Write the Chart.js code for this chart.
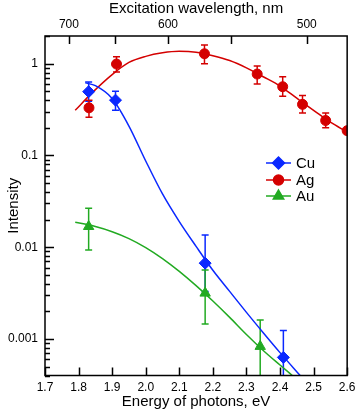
<!DOCTYPE html>
<html>
<head>
<meta charset="utf-8">
<script src="https://cdn.jsdelivr.net/npm/chart.js@4.4.0/dist/chart.umd.min.js"></script>
<style>
    body { margin: 0; background: #fff; }
    canvas { display: block; }
</style>
</head>
<body>
<canvas id="grafico" width="360" height="414"></canvas>
<script>
// Energía de fotones (eV) y valores medidos
const cuE = [1.83, 1.91, 2.177, 2.41];
const cuY = [0.495, 0.40, 0.0067, 0.00063];
const cuLo = [0.39, 0.31, 0.0033, 0.0002];
const cuHi = [0.63, 0.50, 0.0136, 0.00124];

const agE = [1.831, 1.913, 2.175, 2.332, 2.408, 2.467, 2.536, 2.6];
const agY = [0.33, 0.99, 1.28, 0.77, 0.56, 0.36, 0.24, 0.186];
const agLo = [0.26, 0.81, 1.0, 0.60, 0.44, 0.29, 0.20, null];
const agHi = [0.40, 1.19, 1.6, 0.94, 0.72, 0.45, 0.29, null];

const auE = [1.83, 2.177, 2.341];
const auY = [0.0168, 0.00316, 0.00083];
const auLo = [0.0093, 0.00146, 0.0002];
const auHi = [0.0266, 0.00566, 0.00161];

// Curvas de ajuste
const agFitE = [1.79, 1.84, 1.90, 1.95, 2.00, 2.05, 2.10, 2.15, 2.20, 2.25, 2.30, 2.35, 2.40, 2.45, 2.50, 2.55, 2.60];
const agFitY = [0.31, 0.48, 0.76, 1.03, 1.20, 1.31, 1.36, 1.33, 1.22, 1.08, 0.90, 0.72, 0.57, 0.42, 0.31, 0.23, 0.18];

const cuFitE = [1.82, 1.85, 1.90, 1.95, 2.00, 2.05, 2.10, 2.15, 2.20, 2.25, 2.30, 2.35, 2.40, 2.46];
const cuFitY = [0.617, 0.575, 0.417, 0.209, 0.087, 0.038, 0.019, 0.0102, 0.0056, 0.0033, 0.00195, 0.00117, 0.00071, 0.0004];

const auFitE = [1.79, 1.85, 1.90, 1.95, 2.00, 2.05, 2.10, 2.15, 2.20, 2.25, 2.30, 2.35, 2.40, 2.44];
const auFitY = [0.0187, 0.0168, 0.01476, 0.01242, 0.00991, 0.00752, 0.00545, 0.00381, 0.00259, 0.00172, 0.00112, 0.00075, 0.00052, 0.00039];

// Ejes
const xTicks = [1.7, 1.8, 1.9, 2.0, 2.1, 2.2, 2.3, 2.4, 2.5, 2.6];
const topTicksNm = [700, 650, 600, 550, 500];
const topTickLabels = ["700", "", "600", "", "500"];
const yTickLabels = [0.001, 0.01, 0.1, 1];

const AZUL = "#0a28ff";
const ROJO = "#d40000";
const VERDE = "#22aa22";

const nombres = ["Cu", "Ag", "Au"];

Chart.defaults.font.family = '"Liberation Sans", Arial, sans-serif';
Chart.defaults.color = "#000";

function puntos(xs, ys) {
    return xs.map((x, i) => ({x: x, y: ys[i]}));
}

function ticksLog() {
    const lista = [];
    [0.0001].concat(yTickLabels).forEach(d => {
        for (let k = 1; k <= 9; k++) {
            const v = d * k;
            if (v >= 0.0004 - 1e-12 && v <= 2 + 1e-9) lista.push(k === 1 ? d : v);
        }
    });
    return lista;
}

const errores = [
    {xs: cuE, lo: cuLo, hi: cuHi, color: AZUL},
    {xs: agE, lo: agLo, hi: agHi, color: ROJO},
    {xs: auE, lo: auLo, hi: auHi, color: VERDE}
];

const extras = {
    id: "extras",
    beforeDatasetsDraw(chart) {
        const {ctx, chartArea, scales} = chart;
        ctx.save();
        ctx.beginPath();
        ctx.rect(chartArea.left, chartArea.top, chartArea.right - chartArea.left, chartArea.bottom - chartArea.top);
        ctx.clip();
        ctx.lineWidth = 1.5;
        errores.forEach(e => {
            ctx.strokeStyle = e.color;
            e.xs.forEach((x, i) => {
                if (e.lo[i] == null) return;
                const px = scales.x.getPixelForValue(x);
                const p1 = scales.y.getPixelForValue(e.hi[i]);
                const p2 = scales.y.getPixelForValue(e.lo[i]);
                ctx.beginPath();
                ctx.moveTo(px, p1); ctx.lineTo(px, p2);
                ctx.moveTo(px - 3.5, p1); ctx.lineTo(px + 3.5, p1);
                ctx.moveTo(px - 3.5, p2); ctx.lineTo(px + 3.5, p2);
                ctx.stroke();
            });
        });
        ctx.restore();
    },
    afterDraw(chart) {
        const {ctx, chartArea, scales} = chart;
        const {left, right, top, bottom} = chartArea;
        ctx.save();
        ctx.strokeStyle = "#000";
        ctx.lineWidth = 1.5;
        ctx.strokeRect(left, top, right - left, bottom - top);

        // marcas hacia adentro
        ctx.beginPath();
        xTicks.forEach(v => {
            const px = Math.round(scales.x.getPixelForValue(v)) + 0.5;
            ctx.moveTo(px, bottom); ctx.lineTo(px, bottom - 8);
        });
        topTicksNm.forEach(nm => {
            const px = Math.round(scales.x2.getPixelForValue(1239.84 / nm)) + 0.5;
            ctx.moveTo(px, top); ctx.lineTo(px, top + 8);
        });
        scales.y.ticks.forEach(t => {
            const py = Math.round(scales.y.getPixelForValue(t.value)) + 0.5;
            const largo = yTickLabels.includes(t.value) ? 9 : 5;
            ctx.moveTo(left, py); ctx.lineTo(left + largo, py);
        });
        ctx.stroke();

        // leyenda
        const ds = [chart.data.datasets[1], chart.data.datasets[3], chart.data.datasets[5]];
        const filas = [163, 180, 196];
        ds.forEach((d, i) => {
            const y = filas[i];
            ctx.strokeStyle = d.borderColor;
            ctx.fillStyle = d.backgroundColor;
            ctx.lineWidth = 1.5;
            ctx.beginPath();
            ctx.moveTo(266, y); ctx.lineTo(291, y);
            ctx.stroke();
            Chart.helpers.drawPoint(ctx, {
                pointStyle: d.pointStyle, radius: d.pointRadius, rotation: 0, borderWidth: 1
            }, 278.5, y);
            ctx.fillStyle = "#000";
            ctx.font = '15px "Liberation Sans", Arial, sans-serif';
            ctx.textBaseline = "middle";
            ctx.textAlign = "left";
            ctx.fillText(nombres[i], 296, y + 1);
        });
        ctx.restore();
    }
};

function lineaAjuste(xs, ys, color) {
    return {
        data: puntos(xs, ys), showLine: true, pointRadius: 0, pointHoverRadius: 0,
        borderColor: color, borderWidth: 1.5, cubicInterpolationMode: "monotone", fill: false
    };
}

function marcadores(xs, ys, color, estilo, radio) {
    return {
        data: puntos(xs, ys), showLine: false, pointStyle: estilo, pointRadius: radio,
        backgroundColor: color, borderColor: color, pointBorderWidth: 1
    };
}

new Chart(document.getElementById("grafico"), {
    type: "scatter",
    data: {
        datasets: [
            lineaAjuste(cuFitE, cuFitY, AZUL),
            marcadores(cuE, cuY, AZUL, "rectRot", 6),
            lineaAjuste(agFitE, agFitY, ROJO),
            marcadores(agE, agY, ROJO, "circle", 5),
            lineaAjuste(auFitE, auFitY, VERDE),
            marcadores(auE, auY, VERDE, "triangle", 6)
        ]
    },
    options: {
        responsive: false,
        animation: false,
        layout: {padding: {left: 0, right: 10, top: 0, bottom: 0}},
        plugins: {legend: {display: false}, tooltip: {enabled: false}},
        scales: {
            x: {
                type: "linear", position: "bottom", min: 1.7, max: 2.6,
                afterBuildTicks: s => { s.ticks = xTicks.map(v => ({value: v})); },
                afterFit: s => { s.height = 38.5; },
                ticks: {padding: 4.5, font: {size: 12}, callback: v => v.toFixed(1), maxRotation: 0, autoSkip: false},
                grid: {display: false, drawTicks: false},
                border: {display: false},
                title: {display: true, text: "Energy of photons, eV", font: {size: 15}, padding: {top: 0, bottom: 3}}
            },
            x2: {
                type: "linear", position: "top", min: 1.7, max: 2.6,
                afterBuildTicks: s => { s.ticks = topTicksNm.map(nm => ({value: 1239.84 / nm})); },
                afterFit: s => { s.height = 36; },
                ticks: {padding: 4.5, font: {size: 12}, callback: (v, i) => topTickLabels[i], maxRotation: 0, autoSkip: false},
                grid: {display: false, drawTicks: false},
                border: {display: false},
                title: {display: true, text: "Excitation wavelength, nm", font: {size: 15}, padding: {top: 0, bottom: 0}}
            },
            y: {
                type: "logarithmic", position: "left", min: 0.0004, max: 2,
                afterBuildTicks: s => { s.ticks = ticksLog().map(v => ({value: v})); },
                afterFit: s => { s.width = 45; },
                ticks: {padding: 7, font: {size: 12}, autoSkip: false,
                    callback: v => yTickLabels.includes(v) ? String(v) : ""},
                grid: {display: false, drawTicks: false},
                border: {display: false},
                title: {display: true, text: "Intensity", font: {size: 15}, padding: {top: 5, bottom: 0}}
            }
        }
    },
    plugins: [extras]
});
</script>
</body>
</html>
